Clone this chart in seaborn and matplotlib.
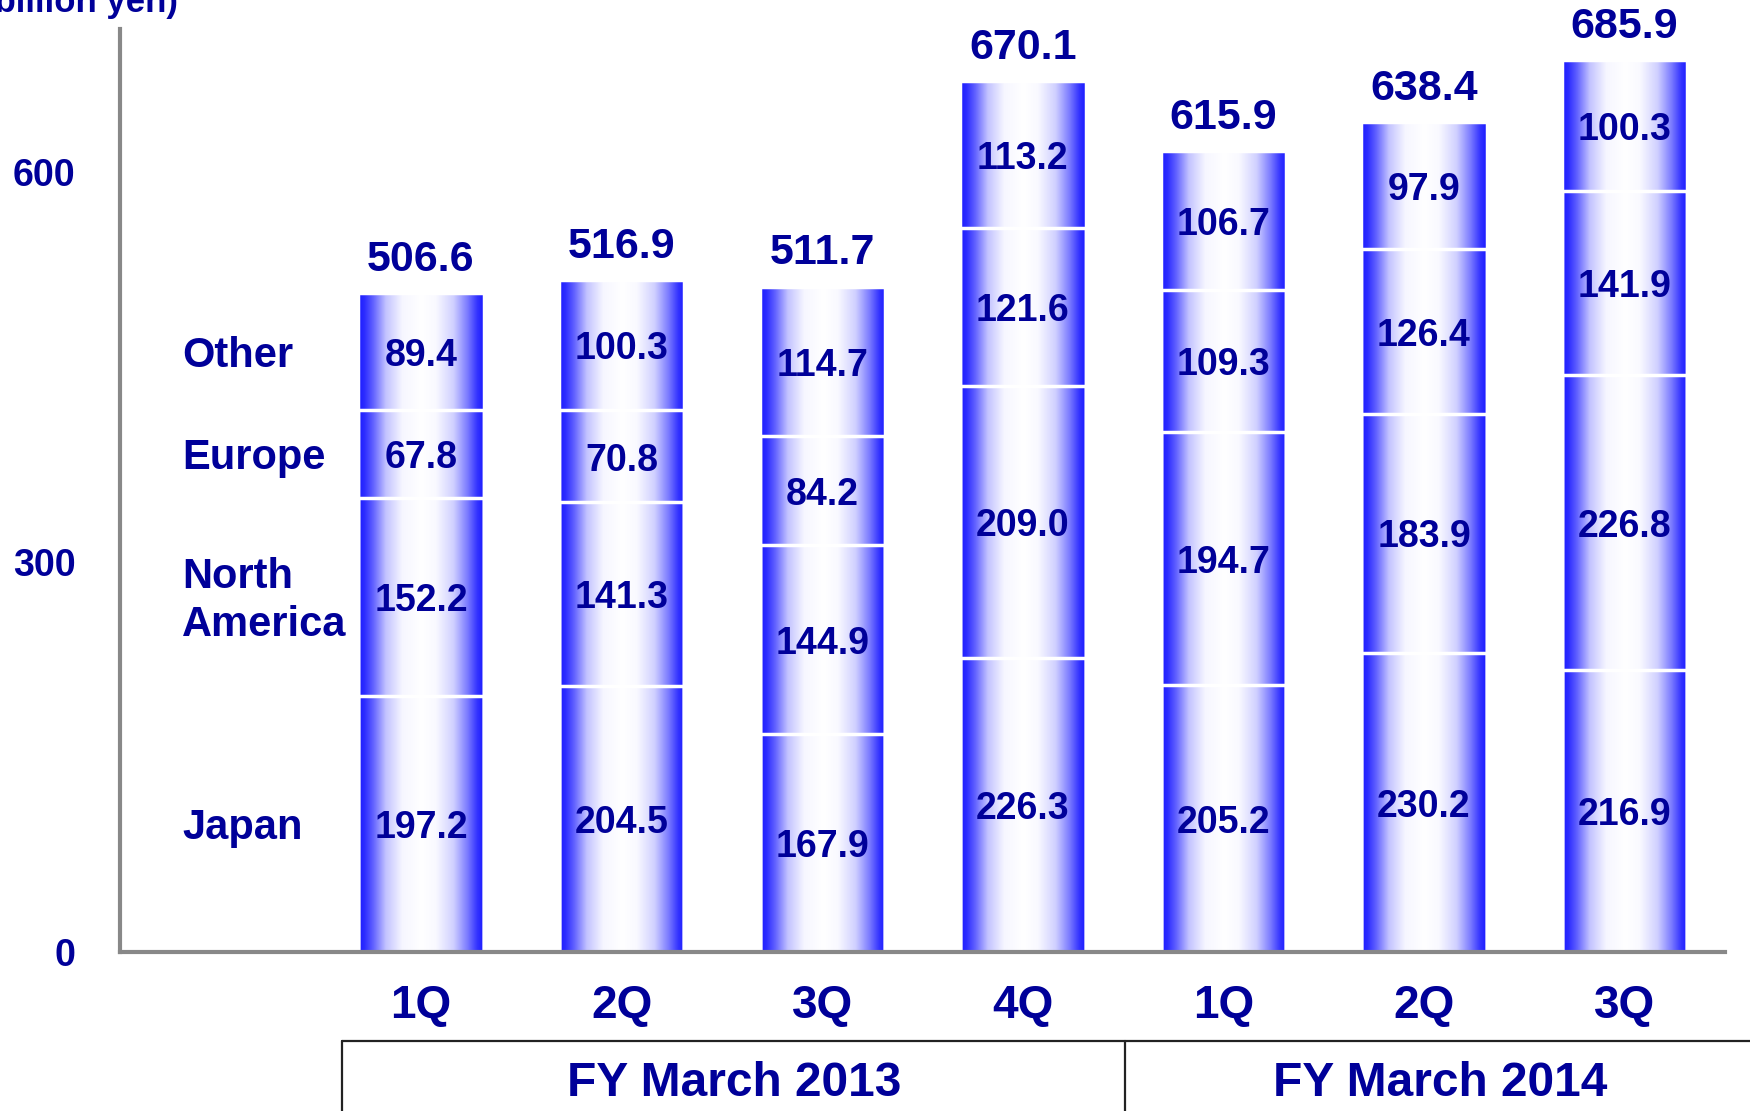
import numpy as np
import pandas as pd
import matplotlib
matplotlib.use("Agg")
import matplotlib.pyplot as plt
import matplotlib.transforms as mtransforms
from matplotlib.colors import LinearSegmentedColormap
import seaborn as sns

# ---- data (billion yen) ----
periods = ["FY13 1Q", "FY13 2Q", "FY13 3Q", "FY13 4Q", "FY14 1Q", "FY14 2Q", "FY14 3Q"]
quarters = ["1Q", "2Q", "3Q", "4Q", "1Q", "2Q", "3Q"]
fiscal_years = ["FY March 2013", "FY March 2014"]
regions = ["Japan", "North\nAmerica", "Europe", "Other"]
japan = [197.2, 204.5, 167.9, 226.3, 205.2, 230.2, 216.9]
north_america = [152.2, 141.3, 144.9, 209.0, 194.7, 183.9, 226.8]
europe = [67.8, 70.8, 84.2, 121.6, 109.3, 126.4, 141.9]
other = [89.4, 100.3, 114.7, 113.2, 106.7, 97.9, 100.3]
totals = [506.6, 516.9, 511.7, 670.1, 615.9, 638.4, 685.9]

NAVY = "#000099"
BLUE = "#1a1aff"

sns.set_style("white")
plt.rcParams["font.family"] = ["Liberation Sans", "DejaVu Sans"]
plt.rcParams["font.weight"] = "bold"

df = pd.DataFrame({"period": periods, "Japan": japan, "North\nAmerica": north_america,
                   "Europe": europe, "Other": other})
cum = df[regions].cumsum(axis=1)
cum["period"] = periods

fig = plt.figure(figsize=(17.5, 11.11), dpi=100)
ax = fig.add_axes([0.0686, 0.1431, 0.9171, 0.8308])

grad_cmap = LinearSegmentedColormap.from_list(
    "bar_grad",
    [(0.0, BLUE), (0.05, "#2c2cff"), (0.12, "#6262ff"), (0.22, "#c2c2ff"),
     (0.35, "#f6f6ff"), (0.5, "#ffffff"), (0.62, "#f9f9ff"), (0.76, "#d0d0ff"),
     (0.87, "#7c7cff"), (0.95, "#3232ff"), (1.0, BLUE)])

# stacked bars: tallest cumulative first
first_patches = None
for region in reversed(regions):
    n_before = len(ax.patches)
    sns.barplot(data=cum, x="period", y=region, order=periods, color=BLUE,
                width=0.625, errorbar=None, ax=ax)
    new = ax.patches[n_before:]
    for p in new:
        p.set_facecolor("none")
        p.set_edgecolor("white")
        p.set_linewidth(2.5)
        p.set_zorder(3)
    if first_patches is None:
        first_patches = list(new)

grad = np.linspace(0, 1, 256).reshape(1, -1)
for p in first_patches:
    x0, y0 = p.get_x(), p.get_y()
    im = ax.imshow(grad, cmap=grad_cmap, aspect="auto", zorder=2,
                   extent=[x0, x0 + p.get_width(), y0, y0 + p.get_height()])
    im.set_clip_path(p)

ax.set_xlim(-1.5, 6.5)
ax.set_ylim(0, 710)
ax.set_xlabel("")
ax.set_ylabel("")

# segment value labels
for i in range(len(periods)):
    for region in regions:
        v = df.loc[i, region]
        c = cum.loc[i, region]
        ax.annotate(f"{v:.1f}", (i, c - v / 2), xytext=(0, -3),
                    textcoords="offset points", ha="center", va="center",
                    fontsize=27, color=NAVY, zorder=5)
    ax.annotate(f"{totals[i]:.1f}", (i, totals[i]), xytext=(0, 24),
                textcoords="offset points", ha="center", va="center",
                fontsize=31, color=NAVY)

# region labels beside first bar
for region in regions:
    v = df.loc[0, region]
    c = cum.loc[0, region]
    ax.annotate(region, (-1.19, c - v / 2), xytext=(0, -3),
                textcoords="offset points", ha="left", va="center",
                fontsize=30, color=NAVY, linespacing=1.25)

# axes styling
for s in ["top", "right"]:
    ax.spines[s].set_visible(False)
for s in ["left", "bottom"]:
    ax.spines[s].set_color("#888888")
    ax.spines[s].set_linewidth(3)
    ax.spines[s].set_zorder(10)

ax.set_yticks([0, 300, 600])
ax.set_yticklabels(["0", "300", "600"])
ax.tick_params(axis="y", direction="in", length=8, width=2.5, color="#888888",
               labelsize=27, labelcolor=NAVY, pad=32)
ax.set_xticks(range(len(periods)))
ax.set_xticklabels(quarters)
ax.tick_params(axis="x", length=0, labelsize=33, labelcolor=NAVY, pad=23)

# fiscal year boxes under the axis
trans = mtransforms.blended_transform_factory(ax.transData, ax.transAxes)
box_y = -0.0964
ax.plot([-0.393, 6.8], [box_y, box_y], color="#222222", lw=1.6,
        transform=trans, clip_on=False)
for xv in [-0.393, 3.51]:
    ax.plot([xv, xv], [box_y, -0.25], color="#222222", lw=1.6,
            transform=trans, clip_on=False)
ax.text(1.56, -0.1425, fiscal_years[0], ha="center", va="center", fontsize=34.5,
        color=NAVY, transform=trans)
ax.text(5.08, -0.1425, fiscal_years[1], ha="center", va="center", fontsize=34.5,
        color=NAVY, transform=trans)

fig.text(178 / 1750, 1 - 12 / 1111, "(billion yen)", ha="right", va="baseline",
         fontsize=25, color=NAVY)

fig.savefig("out.png", dpi=100)
